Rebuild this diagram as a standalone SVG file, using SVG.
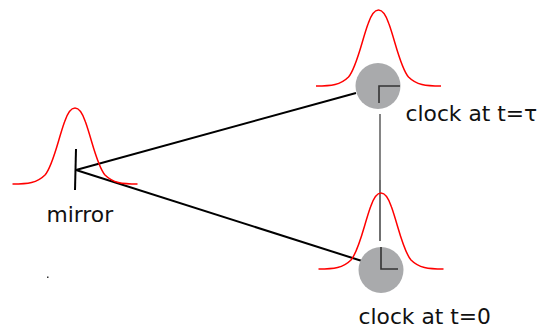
<svg xmlns="http://www.w3.org/2000/svg" width="543" height="327" viewBox="0 0 543 327">
<style>
text{font-family:"DejaVu Sans",sans-serif;font-size:21.8px;fill:#111}
.g{fill:none;stroke:#f00;stroke-width:1.5}
.c{fill:#a9aaac}
.h{fill:none;stroke:#333;stroke-width:1.6}
.l{fill:none;stroke:#000;stroke-width:2}
</style>
<defs>
<path id="gauss" class="g" d="M-62.500 0C-47 0 -38 -1 -30 -9C-22 -18 -17 -44 -10.500 -62C-7.500 -71 -4 -76 0 -76C4 -76 7.500 -71 10.500 -62C17 -44 22 -18 30 -9C38 -1 47 0 62.500 0"/>
</defs>
<g id="connectors">
<path class="l" d="M76 170L356 93"/>
<path class="l" d="M76 170L362 261"/>
<path d="M380 114V180" fill="none" stroke="#666" stroke-width="1.6"/>
<path d="M380 180V241" fill="none" stroke="#333" stroke-width="1.4"/>
</g>
<g id="mirror">
<use href="#gauss" x="75" y="184"/>
<path class="l" d="M76 149L75 190"/>
<text x="46.500" y="222">mirror</text>
<rect x="47" y="276.500" width="1.500" height="1.500" fill="#333"/>
</g>
<g id="clock-tau">
<use href="#gauss" x="378.500" y="86"/>
<ellipse class="c" cx="378" cy="86" rx="22.500" ry="23"/>
<path class="h" d="M400 86H379V103"/>
<text x="405.500" y="121">clock at t=τ</text>
</g>
<g id="clock-0">
<use href="#gauss" x="381" y="269"/>
<ellipse class="c" cx="381" cy="270" rx="22.500" ry="23"/>
<path class="h" d="M398 269H381V247"/>
<text x="358.500" y="324">clock at t=0</text>
</g>
</svg>
